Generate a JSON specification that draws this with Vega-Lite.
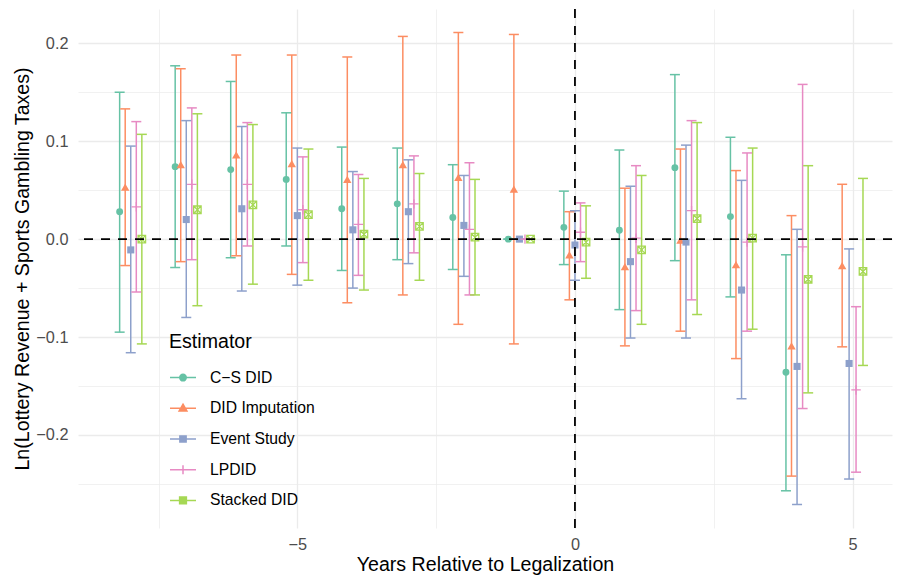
{
  "$schema": "https://vega.github.io/schema/vega-lite/v6.json",
  "width": 814,
  "height": 519,
  "autosize": {"type": "none"},
  "padding": {"left": 78, "top": 9, "right": 7, "bottom": 49},
  "background": "white",
  "config": {"view": {"stroke": null}, "font": "Liberation Sans"},
  "datasets": {
    "est": [
      {"event": -8, "est": "C−S DID", "y": 0.028, "lo": -0.095, "hi": 0.150},
      {"event": -8, "est": "DID Imputation", "y": 0.053, "lo": -0.027, "hi": 0.133},
      {"event": -8, "est": "Event Study", "y": -0.011, "lo": -0.116, "hi": 0.095},
      {"event": -8, "est": "LPDID", "y": 0.033, "lo": -0.054, "hi": 0.120},
      {"event": -8, "est": "Stacked DID", "y": 0.000, "lo": -0.107, "hi": 0.107},
      {"event": -7, "est": "C−S DID", "y": 0.074, "lo": -0.029, "hi": 0.177},
      {"event": -7, "est": "DID Imputation", "y": 0.076, "lo": -0.023, "hi": 0.174},
      {"event": -7, "est": "Event Study", "y": 0.020, "lo": -0.080, "hi": 0.121},
      {"event": -7, "est": "LPDID", "y": 0.056, "lo": -0.021, "hi": 0.134},
      {"event": -7, "est": "Stacked DID", "y": 0.030, "lo": -0.068, "hi": 0.128},
      {"event": -6, "est": "C−S DID", "y": 0.071, "lo": -0.019, "hi": 0.161},
      {"event": -6, "est": "DID Imputation", "y": 0.086, "lo": -0.017, "hi": 0.188},
      {"event": -6, "est": "Event Study", "y": 0.031, "lo": -0.053, "hi": 0.115},
      {"event": -6, "est": "LPDID", "y": 0.056, "lo": -0.007, "hi": 0.119},
      {"event": -6, "est": "Stacked DID", "y": 0.035, "lo": -0.046, "hi": 0.117},
      {"event": -5, "est": "C−S DID", "y": 0.061, "lo": -0.007, "hi": 0.129},
      {"event": -5, "est": "DID Imputation", "y": 0.077, "lo": -0.036, "hi": 0.188},
      {"event": -5, "est": "Event Study", "y": 0.024, "lo": -0.047, "hi": 0.093},
      {"event": -5, "est": "LPDID", "y": 0.030, "lo": -0.024, "hi": 0.084},
      {"event": -5, "est": "Stacked DID", "y": 0.025, "lo": -0.042, "hi": 0.092},
      {"event": -4, "est": "C−S DID", "y": 0.031, "lo": -0.032, "hi": 0.094},
      {"event": -4, "est": "DID Imputation", "y": 0.061, "lo": -0.065, "hi": 0.186},
      {"event": -4, "est": "Event Study", "y": 0.0095, "lo": -0.050, "hi": 0.069},
      {"event": -4, "est": "LPDID", "y": 0.015, "lo": -0.037, "hi": 0.066},
      {"event": -4, "est": "Stacked DID", "y": 0.005, "lo": -0.052, "hi": 0.062},
      {"event": -3, "est": "C−S DID", "y": 0.036, "lo": -0.021, "hi": 0.093},
      {"event": -3, "est": "DID Imputation", "y": 0.076, "lo": -0.057, "hi": 0.207},
      {"event": -3, "est": "Event Study", "y": 0.028, "lo": -0.025, "hi": 0.081},
      {"event": -3, "est": "LPDID", "y": 0.036, "lo": -0.014, "hi": 0.085},
      {"event": -3, "est": "Stacked DID", "y": 0.013, "lo": -0.042, "hi": 0.067},
      {"event": -2, "est": "C−S DID", "y": 0.022, "lo": -0.031, "hi": 0.076},
      {"event": -2, "est": "DID Imputation", "y": 0.063, "lo": -0.087, "hi": 0.211},
      {"event": -2, "est": "Event Study", "y": 0.014, "lo": -0.038, "hi": 0.065},
      {"event": -2, "est": "LPDID", "y": 0.010, "lo": -0.057, "hi": 0.078},
      {"event": -2, "est": "Stacked DID", "y": 0.002, "lo": -0.057, "hi": 0.061},
      {"event": -1, "est": "C−S DID", "y": 0, "lo": 0, "hi": 0},
      {"event": -1, "est": "DID Imputation", "y": 0.051, "lo": -0.107, "hi": 0.209},
      {"event": -1, "est": "Event Study", "y": 0, "lo": 0, "hi": 0},
      {"event": -1, "est": "LPDID", "y": 0, "lo": 0, "hi": 0},
      {"event": -1, "est": "Stacked DID", "y": 0, "lo": 0, "hi": 0},
      {"event": 0, "est": "C−S DID", "y": 0.012, "lo": -0.026, "hi": 0.049},
      {"event": 0, "est": "DID Imputation", "y": -0.016, "lo": -0.062, "hi": 0.028},
      {"event": 0, "est": "Event Study", "y": -0.006, "lo": -0.042, "hi": 0.029},
      {"event": 0, "est": "LPDID", "y": 0.007, "lo": -0.023, "hi": 0.037},
      {"event": 0, "est": "Stacked DID", "y": -0.003, "lo": -0.040, "hi": 0.034},
      {"event": 1, "est": "C−S DID", "y": 0.009, "lo": -0.072, "hi": 0.091},
      {"event": 1, "est": "DID Imputation", "y": -0.028, "lo": -0.109, "hi": 0.052},
      {"event": 1, "est": "Event Study", "y": -0.023, "lo": -0.101, "hi": 0.054},
      {"event": 1, "est": "LPDID", "y": 0.001, "lo": -0.073, "hi": 0.075},
      {"event": 1, "est": "Stacked DID", "y": -0.011, "lo": -0.087, "hi": 0.065},
      {"event": 2, "est": "C−S DID", "y": 0.073, "lo": -0.022, "hi": 0.168},
      {"event": 2, "est": "DID Imputation", "y": -0.001, "lo": -0.094, "hi": 0.092},
      {"event": 2, "est": "Event Study", "y": -0.003, "lo": -0.101, "hi": 0.096},
      {"event": 2, "est": "LPDID", "y": 0.029, "lo": -0.062, "hi": 0.121},
      {"event": 2, "est": "Stacked DID", "y": 0.021, "lo": -0.077, "hi": 0.119},
      {"event": 3, "est": "C−S DID", "y": 0.023, "lo": -0.059, "hi": 0.104},
      {"event": 3, "est": "DID Imputation", "y": -0.026, "lo": -0.122, "hi": 0.070},
      {"event": 3, "est": "Event Study", "y": -0.052, "lo": -0.163, "hi": 0.060},
      {"event": 3, "est": "LPDID", "y": -0.003, "lo": -0.094, "hi": 0.088},
      {"event": 3, "est": "Stacked DID", "y": 0.001, "lo": -0.092, "hi": 0.093},
      {"event": 4, "est": "C−S DID", "y": -0.136, "lo": -0.257, "hi": -0.016},
      {"event": 4, "est": "DID Imputation", "y": -0.109, "lo": -0.242, "hi": 0.024},
      {"event": 4, "est": "Event Study", "y": -0.130, "lo": -0.271, "hi": 0.010},
      {"event": 4, "est": "LPDID", "y": -0.008, "lo": -0.173, "hi": 0.158},
      {"event": 4, "est": "Stacked DID", "y": -0.041, "lo": -0.157, "hi": 0.075},
      {"event": 5, "est": "DID Imputation", "y": -0.027, "lo": -0.110, "hi": 0.056},
      {"event": 5, "est": "Event Study", "y": -0.127, "lo": -0.245, "hi": -0.010},
      {"event": 5, "est": "LPDID", "y": -0.154, "lo": -0.238, "hi": -0.069},
      {"event": 5, "est": "Stacked DID", "y": -0.033, "lo": -0.129, "hi": 0.062}
    ],
    "ref": [{"at": 0}]
  },
  "layer": [
    {
      "data": {"name": "est"},
      "mark": {"type": "rule", "strokeWidth": 1.5,
        "xOffset": {"expr": "(datum.event === 5 ? 6.94 : 5.55) * (indexof(['C−S DID', 'DID Imputation', 'Event Study', 'LPDID', 'Stacked DID'], datum.est) - (datum.event === 5 ? 2.5 : 2))"}},
      "encoding": {
        "x": {
          "field": "event", "type": "quantitative",
          "scale": {"domain": [-8.95, 5.71], "nice": false, "zero": false},
          "axis": {
            "title": "Years Relative to Legalization",
            "values": [-7.5, -5, -2.5, 0, 2.5, 5],
            "labelExpr": "datum.value % 5 === 0 ? format(datum.value, 'd') : ''",
            "grid": true, "gridColor": "#ebebeb",
            "gridWidth": {"condition": {"test": "datum.value % 5 !== 0", "value": 0.7}, "value": 1.3},
            "domain": false, "ticks": false, "tickSize": 0,
            "labelPadding": 8, "labelFontSize": 16.3, "labelColor": "#4d4d4d", "labelFont": "Liberation Sans",
            "titleFontSize": 19.6, "titleFontWeight": "normal", "titleColor": "black", "titleFont": "Liberation Sans",
            "titlePadding": 3
          }
        },
        "y": {
          "field": "lo", "type": "quantitative",
          "scale": {"domain": [-0.295, 0.235], "nice": false, "zero": false},
          "axis": {
            "title": "Ln(Lottery Revenue + Sports Gambling Taxes)",
            "values": [-0.25, -0.2, -0.15, -0.1, -0.05, 0, 0.05, 0.1, 0.15, 0.2],
            "labelExpr": "abs(round(datum.value * 20)) % 2 === 0 ? format(datum.value, '.1f') : ''",
            "grid": true, "gridColor": "#ebebeb",
            "gridWidth": {"condition": {"test": "abs(round(datum.value * 20)) % 2 === 1", "value": 0.7}, "value": 1.3},
            "domain": false, "ticks": false, "tickSize": 0,
            "labelPadding": 10, "labelFontSize": 16.3, "labelColor": "#4d4d4d", "labelFont": "Liberation Sans",
            "titleFontSize": 19.6, "titleFontWeight": "normal", "titleColor": "black", "titleFont": "Liberation Sans",
            "titlePadding": 3
          }
        },
        "y2": {"field": "hi"},
        "color": {
          "field": "est", "type": "nominal",
          "scale": {"domain": ["C−S DID", "DID Imputation", "Event Study", "LPDID", "Stacked DID"], "range": ["#66c2a5", "#fc8d62", "#8da0cb", "#e78ac3", "#a6d854"]},
          "legend": {
            "title": "Estimator", "orient": "none", "legendX": 91, "legendY": 324, "padding": 0,
            "titleFontSize": 19.6, "titleFontWeight": "normal", "titleColor": "black", "titleFont": "Liberation Sans", "titlePadding": 11,
            "labelFontSize": 15.7, "labelColor": "black", "labelFont": "Liberation Sans", "labelOffset": 13,
            "symbolSize": 676, "rowPadding": 8.7, "symbolStrokeWidth": 1.5,
            "encode": {
              "symbols": {
                "update": {
                  "shape": {"signal": "datum.value === 'C−S DID' ? 'M-1,0H1M-0.25,0A0.25,0.25,0,1,0,0.25,0A0.25,0.25,0,1,0,-0.25,0Z' : datum.value === 'DID Imputation' ? 'M-1,0H1M0,-0.32L0.3,0.2L-0.3,0.2Z' : datum.value === 'Event Study' ? 'M-1,0H1M-0.24,-0.24H0.24V0.24H-0.24Z' : datum.value === 'LPDID' ? 'M-1,0H1M0,-0.35V0.35' : 'M-1,0H1M-0.26,-0.26H0.26V0.26H-0.26ZM-0.26,-0.26L0.26,0.26M-0.26,0.26L0.26,-0.26'"},
                  "fill": {"signal": "indexof(['LPDID', 'Stacked DID'], datum.value) >= 0 ? 'transparent' : scale('color', datum.value)"},
                  "stroke": {"signal": "scale('color', datum.value)"},
                  "strokeWidth": {"value": 1.5},
                  "opacity": {"value": 1}
                }
              }
            }
          }
        }
      }
    },
    {
      "data": {"name": "est"},
      "mark": {"type": "point", "shape": "M-1,0H1", "filled": false, "size": 100, "strokeWidth": 1.5, "opacity": 1,
        "xOffset": {"expr": "(datum.event === 5 ? 6.94 : 5.55) * (indexof(['C−S DID', 'DID Imputation', 'Event Study', 'LPDID', 'Stacked DID'], datum.est) - (datum.event === 5 ? 2.5 : 2))"}},
      "encoding": {
        "x": {"field": "event", "type": "quantitative"},
        "y": {"field": "lo", "type": "quantitative"},
        "color": {"field": "est", "type": "nominal", "legend": null}
      }
    },
    {
      "data": {"name": "est"},
      "mark": {"type": "point", "shape": "M-1,0H1", "filled": false, "size": 100, "strokeWidth": 1.5, "opacity": 1,
        "xOffset": {"expr": "(datum.event === 5 ? 6.94 : 5.55) * (indexof(['C−S DID', 'DID Imputation', 'Event Study', 'LPDID', 'Stacked DID'], datum.est) - (datum.event === 5 ? 2.5 : 2))"}},
      "encoding": {
        "x": {"field": "event", "type": "quantitative"},
        "y": {"field": "hi", "type": "quantitative"},
        "color": {"field": "est", "type": "nominal", "legend": null}
      }
    },
    {
      "data": {"name": "est"},
      "transform": [{"filter": {"field": "est", "equal": "C−S DID"}}],
      "mark": {"type": "point", "shape": "circle", "filled": true, "size": 48, "opacity": 1,
        "xOffset": {"expr": "(datum.event === 5 ? 6.94 : 5.55) * (indexof(['C−S DID', 'DID Imputation', 'Event Study', 'LPDID', 'Stacked DID'], datum.est) - (datum.event === 5 ? 2.5 : 2))"}},
      "encoding": {
        "x": {"field": "event", "type": "quantitative"},
        "y": {"field": "y", "type": "quantitative"},
        "color": {"field": "est", "type": "nominal", "legend": null}
      }
    },
    {
      "data": {"name": "est"},
      "transform": [{"filter": {"field": "est", "equal": "DID Imputation"}}],
      "mark": {"type": "point", "shape": "triangle-up", "filled": true, "size": 70, "opacity": 1,
        "xOffset": {"expr": "(datum.event === 5 ? 6.94 : 5.55) * (indexof(['C−S DID', 'DID Imputation', 'Event Study', 'LPDID', 'Stacked DID'], datum.est) - (datum.event === 5 ? 2.5 : 2))"}},
      "encoding": {
        "x": {"field": "event", "type": "quantitative"},
        "y": {"field": "y", "type": "quantitative"},
        "color": {"field": "est", "type": "nominal", "legend": null}
      }
    },
    {
      "data": {"name": "est"},
      "transform": [{"filter": {"field": "est", "equal": "Event Study"}}],
      "mark": {"type": "point", "shape": "square", "filled": true, "size": 50, "opacity": 1,
        "xOffset": {"expr": "(datum.event === 5 ? 6.94 : 5.55) * (indexof(['C−S DID', 'DID Imputation', 'Event Study', 'LPDID', 'Stacked DID'], datum.est) - (datum.event === 5 ? 2.5 : 2))"}},
      "encoding": {
        "x": {"field": "event", "type": "quantitative"},
        "y": {"field": "y", "type": "quantitative"},
        "color": {"field": "est", "type": "nominal", "legend": null}
      }
    },
    {
      "data": {"name": "est"},
      "transform": [{"filter": {"field": "est", "equal": "LPDID"}}],
      "mark": {"type": "point", "shape": "M-1,0H1M0,-1V1", "filled": false, "size": 90, "strokeWidth": 1.3, "opacity": 1,
        "xOffset": {"expr": "(datum.event === 5 ? 6.94 : 5.55) * (indexof(['C−S DID', 'DID Imputation', 'Event Study', 'LPDID', 'Stacked DID'], datum.est) - (datum.event === 5 ? 2.5 : 2))"}},
      "encoding": {
        "x": {"field": "event", "type": "quantitative"},
        "y": {"field": "y", "type": "quantitative"},
        "color": {"field": "est", "type": "nominal", "legend": null}
      }
    },
    {
      "data": {"name": "est"},
      "transform": [{"filter": {"field": "est", "equal": "Stacked DID"}}],
      "mark": {"type": "point", "shape": "M-1,-1H1V1H-1ZM-1,-1L1,1M-1,1L1,-1", "filled": false, "size": 56, "strokeWidth": 1.3, "opacity": 1,
        "xOffset": {"expr": "(datum.event === 5 ? 6.94 : 5.55) * (indexof(['C−S DID', 'DID Imputation', 'Event Study', 'LPDID', 'Stacked DID'], datum.est) - (datum.event === 5 ? 2.5 : 2))"}},
      "encoding": {
        "x": {"field": "event", "type": "quantitative"},
        "y": {"field": "y", "type": "quantitative"},
        "color": {"field": "est", "type": "nominal", "legend": null}
      }
    },
    {
      "data": {"name": "ref"},
      "mark": {"type": "rule", "color": "black", "strokeWidth": 1.8, "strokeDash": [9, 8]},
      "encoding": {"y": {"field": "at", "type": "quantitative"}}
    },
    {
      "data": {"name": "ref"},
      "mark": {"type": "rule", "color": "black", "strokeWidth": 1.8, "strokeDash": [9, 8]},
      "encoding": {"x": {"field": "at", "type": "quantitative"}}
    }
  ]
}
